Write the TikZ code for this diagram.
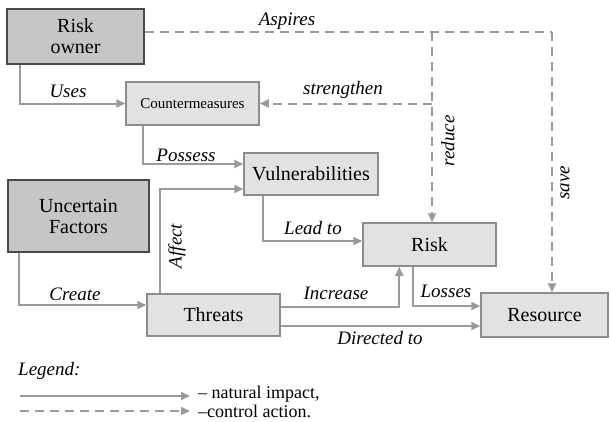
\documentclass[tikz,border=0pt]{standalone}
\usepackage{fontspec}
\setmainfont{Liberation Serif}
\newfontfamily\tms{Liberation Serif}
\usetikzlibrary{arrows.meta}
\definecolor{darkfill}{HTML}{C6C6C6}
\definecolor{lightfill}{HTML}{E2E2E2}
\definecolor{darkedge}{HTML}{4A4A4A}
\definecolor{lightedge}{HTML}{8C8C8C}
\definecolor{conn}{HTML}{9A9A9A}
\tikzset{
  darkbox/.style={draw=darkedge, fill=darkfill, line width=1.5pt, inner sep=0pt, align=center, font=\tms\fontsize{20}{21}\selectfont},
  lightbox/.style={draw=lightedge, fill=lightfill, line width=1.5pt, inner sep=0pt, align=center, font=\tms\fontsize{20}{22}\selectfont},
  nat/.style={draw=conn, line width=2pt, -{Triangle[length=9pt,width=8pt]}},
  ctrl/.style={draw=conn, line width=2pt, dash pattern=on 9pt off 6pt, -{Triangle[length=9pt,width=8pt]}},
  ctrlnoarrow/.style={draw=conn, line width=2pt, dash pattern=on 9pt off 6pt},
  lbl/.style={font=\tms\fontsize{19}{20}\selectfont\itshape, inner sep=0pt},
  leg/.style={font=\tms\fontsize{18}{19}\selectfont, inner sep=0pt, anchor=west}
}
\begin{document}
\begin{tikzpicture}[x=1pt,y=-1pt]
\useasboundingbox[fill=white] (0,0) rectangle (611,421);
% boxes
\node[darkbox, minimum width=137pt, minimum height=55pt] (owner) at (75.5,36.5) {Risk\\owner};
\node[lightbox, minimum width=133pt, minimum height=43pt, font=\tms\fontsize{15}{16}\selectfont] (cm) at (192.5,103.5) {Countermeasures};
\node[lightbox, minimum width=134pt, minimum height=42pt] (vul) at (311,174) {Vulnerabilities};
\node[darkbox, minimum width=141pt, minimum height=72pt] (unc) at (78.5,216) {Uncertain\\Factors};
\node[lightbox, minimum width=133pt, minimum height=42pt] (thr) at (213.5,315) {Threats};
\node[lightbox, minimum width=133pt, minimum height=43pt] (risk) at (429.5,244.5) {Risk};
\node[lightbox, minimum width=127pt, minimum height=44pt] (res) at (544.5,315) {Resource};
% natural impact connectors
\draw[nat] ([xshift=14pt]owner.south west) |- (cm.west);
\draw[nat] ([xshift=18pt]cm.south west) |- ([yshift=10pt]vul.west);
\draw[nat] ([xshift=14pt]thr.north west) |- ([yshift=-15pt]vul.west);
\draw[nat] ([xshift=12pt]unc.south west) |- ([yshift=10pt]thr.west);
\draw[nat] ([xshift=20pt]vul.south west) |- ([yshift=3.5pt]risk.west);
\draw[nat] ([yshift=8pt]thr.east) -| ([xshift=37pt]risk.south west);
\draw[nat] ([xshift=51pt]risk.south west) |- ([yshift=9pt]res.west);
\draw[nat] ([yshift=-11pt]thr.east) -- ([yshift=-11pt]res.west);
% control connectors
\coordinate (c1) at (552,32);
\coordinate (c2) at (432,32);
\coordinate (c3) at (432,103.5);
\draw[ctrlnoarrow] ([yshift=4.5pt]owner.east) -- (c1);
\draw[ctrl] (c1) -- (c1 |- res.north);
\draw[ctrl] (c2) -- (c2 |- risk.north);
\draw[ctrl] (c3) -- (cm.east);
% labels
\node[lbl] (l1) at (68,91) {Uses};
\node[lbl] (l2) at (186,155) {Possess};
\node[lbl, rotate=90] (l3) at (177,246) {Affect};
\node[lbl] (l4) at (75,294) {Create};
\node[lbl] (l5) at (313,228) {Lead to};
\node[lbl] (l6) at (336,293) {Increase};
\node[lbl] (l7) at (446,291) {Losses};
\node[lbl] (l8) at (380,338) {Directed to};
\node[lbl] (l9) at (287,21) {Aspires};
\node[lbl] (l10) at (343,90) {strengthen};
\node[lbl, rotate=90] (l11) at (448,141) {reduce};
\node[lbl, rotate=90] (l12) at (565,183) {save};
% legend
\node[lbl, anchor=west] (lg) at (18,371) {Legend:};
\coordinate (a1) at (20,396);
\coordinate (a2) at (190,396);
\coordinate (b1) at (20,411);
\coordinate (b2) at (190,411);
\draw[nat, line width=1.5pt] (a1) -- (a2);
\draw[ctrl, line width=1.5pt] (b1) -- (b2);
\node[leg] (t1) at (198,394) {– natural impact,};
\node[leg] (t2) at (198,411.5) {–control action.};
\end{tikzpicture}
\end{document}
